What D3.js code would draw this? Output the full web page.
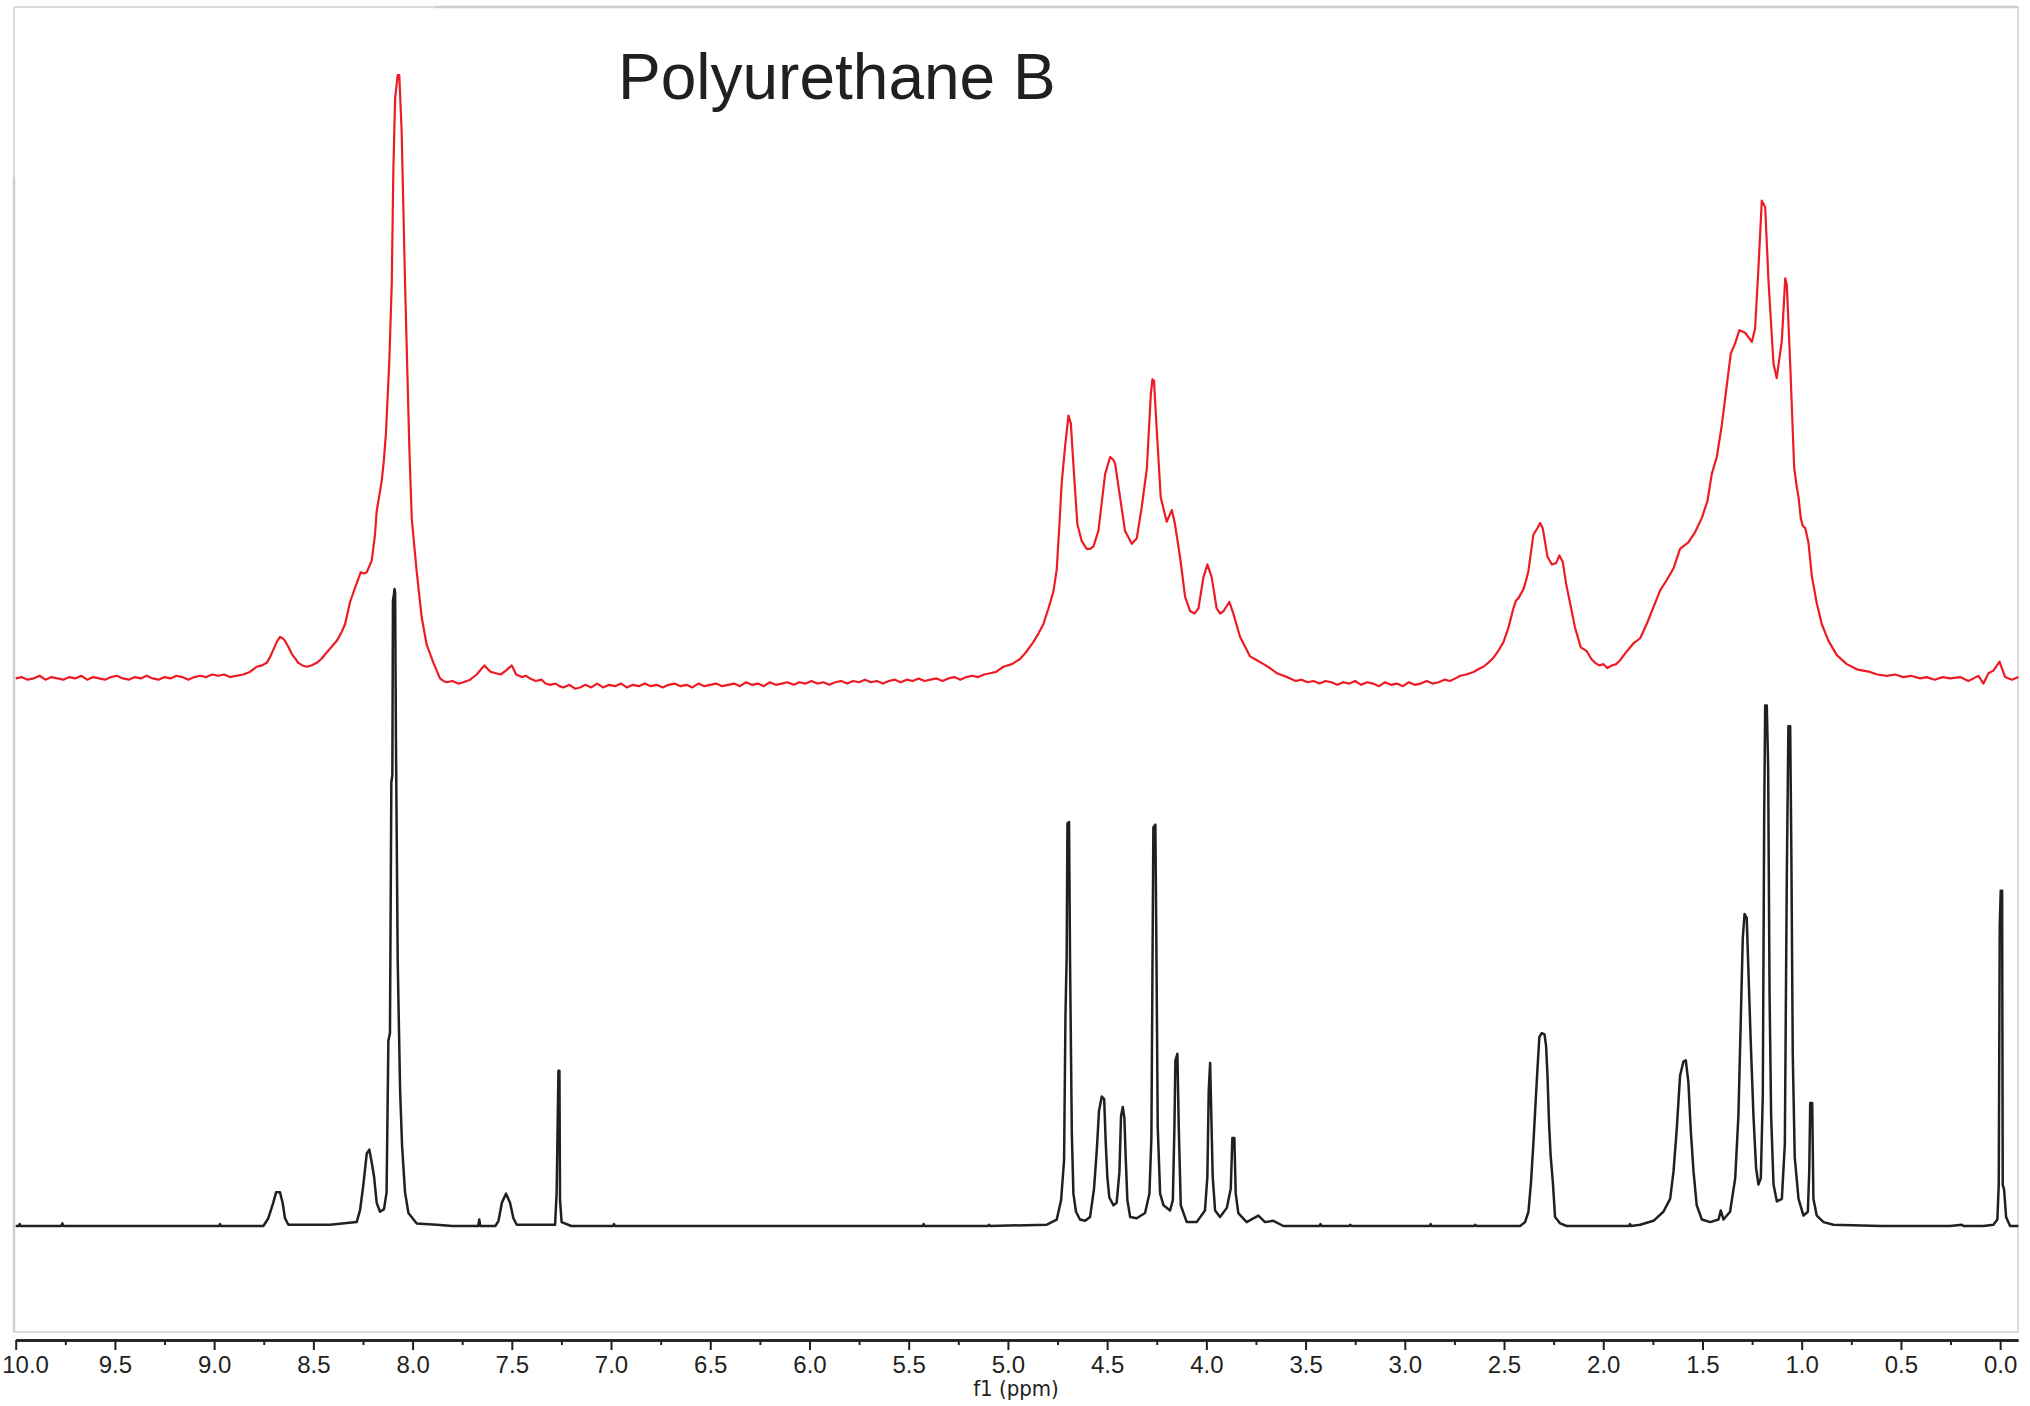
<!DOCTYPE html>
<html>
<head>
<meta charset="utf-8">
<script src="https://cdn.jsdelivr.net/npm/d3@7"></script>
<style>
  body { margin: 0; background: #fff; }
  svg { display: block; }
</style>
</head>
<body>
<div id="box"></div>
<script>
var titleText = "Polyurethane B";
var axisTitle = "f1 (ppm)";
var majorTicks = [10.0, 9.5, 9.0, 8.5, 8.0, 7.5, 7.0, 6.5, 6.0, 5.5, 5.0, 4.5, 4.0, 3.5, 3.0, 2.5, 2.0, 1.5, 1.0, 0.5, 0.0];
var minorTicks = [9.75, 9.25, 8.75, 8.25, 7.75, 7.25, 6.75, 6.25, 5.75, 5.25, 4.75, 4.25, 3.75, 3.25, 2.75, 2.25, 1.75, 1.25, 0.75, 0.25];

// red trace (upper), [ppm, intensity above its own baseline]
var redTrace = [
  [10.00,0],[9.97,1],[9.94,-1],[9.91,0],[9.88,2],[9.85,-1],[9.82,1],[9.79,0],[9.76,-1],[9.73,1],[9.70,0],[9.67,2],
  [9.64,-1],[9.61,1],[9.58,0],[9.55,-1],[9.52,1],[9.49,2],[9.46,0],[9.43,-1],[9.40,1],[9.37,0],[9.34,2],[9.31,0],
  [9.28,-1],[9.25,1],[9.22,0],[9.19,2],[9.16,1],[9.13,-1],[9.10,1],[9.07,2],[9.04,1],[9.01,3],[8.98,2],[8.95,3],
  [8.92,1],[8.89,2],[8.853,3],[8.82,5],[8.785,9],[8.76,10],[8.735,12],[8.72,16],[8.702,22],[8.685,28],[8.668,32],
  [8.655,31],[8.643,29],[8.625,24],[8.609,19],[8.59,15],[8.576,12],[8.555,10],[8.533,9],[8.51,10],[8.483,12],
  [8.46,15],[8.433,20],[8.41,24],[8.382,29],[8.36,35],[8.34,42],[8.315,59],[8.29,70],[8.261,82],[8.245,81],
  [8.231,82],[8.206,91],[8.19,110],[8.181,129],[8.156,152],[8.145,168],[8.134,190],[8.117,246],[8.105,305],
  [8.097,392],[8.088,448],[8.075,466],[8.067,466],[8.055,422],[8.038,305],[8.016,176],[8.004,123],[7.979,82],
  [7.954,47],[7.929,26],[7.895,12],[7.862,0],[7.845,-2],[7.828,-3],[7.80,-2],[7.77,-4],[7.744,-3],[7.71,-1],
  [7.677,3],[7.655,7],[7.638,10],[7.62,7],[7.606,5],[7.58,4],[7.556,3],[7.53,6],[7.50,10],[7.478,3],[7.45,1],
  [7.43,2],[7.408,0],[7.38,-2],[7.35,-1],[7.33,-4],[7.307,-5],[7.28,-4],[7.26,-6],[7.24,-7],[7.21,-5],[7.18,-8],
  [7.156,-7],[7.13,-5],[7.10,-7],[7.07,-4],[7.04,-7],[7.01,-5],[6.98,-6],[6.95,-4],[6.92,-7],[6.89,-5],[6.86,-6],
  [6.83,-4],[6.80,-6],[6.77,-5],[6.74,-7],[6.71,-5],[6.68,-4],[6.65,-6],[6.62,-5],[6.59,-7],[6.56,-4],[6.53,-6],
  [6.50,-5],[6.47,-4],[6.44,-6],[6.41,-5],[6.38,-4],[6.35,-6],[6.32,-3],[6.29,-5],[6.26,-4],[6.23,-6],[6.20,-3],
  [6.17,-5],[6.14,-4],[6.11,-3],[6.08,-5],[6.05,-3],[6.02,-4],[5.99,-2],[5.96,-4],[5.93,-3],[5.90,-5],[5.87,-3],
  [5.84,-2],[5.81,-4],[5.78,-2],[5.75,-3],[5.72,-1],[5.69,-3],[5.66,-2],[5.63,-4],[5.60,-2],[5.57,-1],[5.54,-3],
  [5.51,-1],[5.48,-2],[5.45,0],[5.42,-2],[5.39,-1],[5.36,0],[5.33,-2],[5.30,0],[5.27,1],[5.24,-1],[5.21,1],
  [5.18,2],[5.15,1],[5.12,3],
  [5.090,4],[5.06,5],[5.023,9],[4.98,11],[4.939,15],[4.91,20],[4.872,28],[4.845,35],[4.821,42],[4.796,54],
  [4.771,67],[4.754,84],[4.74,120],[4.729,151],[4.712,179],[4.695,203],[4.683,197],[4.667,158],[4.650,119],
  [4.628,106],[4.603,100],[4.585,100],[4.569,102],[4.544,114],[4.510,158],[4.485,171],[4.470,169],[4.460,166],
  [4.435,140],[4.410,114],[4.376,104],[4.351,108],[4.326,132],[4.300,162],[4.280,219],[4.272,231],[4.264,230],
  [4.250,192],[4.230,140],[4.200,121],[4.174,130],[4.158,119],[4.132,93],[4.107,63],[4.082,52],[4.060,50],
  [4.040,54],[4.015,78],[3.995,88],[3.973,78],[3.948,54],[3.930,50],[3.914,52],[3.884,59],[3.864,50],[3.830,32],
  [3.80,23],[3.780,17],[3.745,14],[3.712,11],[3.68,8],[3.645,4],[3.61,2],[3.578,0],
  [3.55,-2],[3.52,-1],[3.49,-3],[3.46,-2],[3.43,-4],[3.40,-2],[3.37,-3],[3.34,-5],[3.31,-3],[3.28,-4],[3.25,-2],
  [3.22,-5],[3.19,-3],[3.16,-4],[3.13,-6],[3.10,-3],[3.07,-5],[3.04,-4],[3.01,-6],[2.98,-3],[2.95,-5],[2.92,-4],
  [2.89,-2],[2.86,-4],[2.83,-3],[2.80,-1],
  [2.772,-2],[2.745,0],[2.721,2],[2.69,3],[2.654,5],[2.63,7],[2.604,9],[2.58,12],[2.553,16],[2.53,21],[2.503,28],
  [2.478,39],[2.453,54],[2.44,60],[2.427,62],[2.402,69],[2.39,75],[2.377,83],[2.352,111],[2.332,116],[2.318,120],
  [2.305,116],[2.281,94],[2.259,88],[2.238,89],[2.221,95],[2.204,90],[2.187,73],[2.167,58],[2.142,39],[2.113,24],
  [2.083,21],[2.06,15],[2.041,12],[2.02,10],[1.999,11],[1.98,8],[1.957,10],[1.935,11],[1.915,14],
  [1.881,21],[1.848,27],[1.814,31],[1.781,42],[1.747,55],[1.713,68],[1.680,76],[1.646,85],[1.613,100],[1.571,105],
  [1.537,113],[1.503,124],[1.475,137],[1.453,158],[1.428,171],[1.403,195],[1.377,227],[1.357,251],[1.335,259],
  [1.314,269],[1.285,267],[1.251,260],[1.235,270],[1.218,317],[1.201,369],[1.184,364],[1.167,306],[1.142,243],
  [1.126,232],[1.100,261],[1.083,309],[1.075,304],[1.058,243],[1.038,163],[1.025,148],[1.016,140],[1.005,124],
  [0.995,118],[0.982,116],[0.966,105],[0.949,79],[0.924,58],[0.899,42],[0.865,29],[0.823,18],[0.773,11],[0.722,7],
  [0.69,6],[0.655,5],[0.62,3],[0.571,2],[0.53,3],[0.487,1],[0.45,2],[0.403,0],[0.37,1],[0.33,-1],[0.29,1],
  [0.252,0],[0.202,1],[0.160,-2],[0.134,0],[0.109,2],[0.084,-4],[0.059,4],[0.034,6],[0.003,13],[-0.025,1],
  [-0.059,-1],[-0.092,1]
];

// black trace (lower)
var blackTrace = [
  [10.00,0],[9.985,0],[9.98,1.5],[9.975,0],[9.77,0],[9.765,2],[9.76,0],[8.975,0],[8.97,1.5],[8.965,0],
  [8.752,0],[8.727,6],[8.702,18],[8.688,26],[8.668,26],[8.655,18],[8.643,6],[8.626,1],[8.416,1],[8.282,3],
  [8.265,12],[8.248,32],[8.231,56],[8.218,59],[8.206,49],[8.194,38],[8.181,18],[8.164,11],[8.144,13],[8.131,26],
  [8.122,143],[8.114,149],[8.107,343],[8.102,348],[8.099,483],[8.094,488],[8.091,492],[8.088,489],[8.084,378],
  [8.075,205],[8.063,105],[8.053,62],[8.038,26],[8.021,10],[7.979,2],[7.878,1],[7.80,0],[7.669,0],[7.664,5],
  [7.659,0],[7.583,0],[7.567,4],[7.55,18],[7.529,25],[7.509,18],[7.492,6],[7.475,1],[7.282,1],[7.274,26],
  [7.265,120],[7.26,120],[7.257,20],[7.249,3],[7.20,0],[6.99,0],[6.985,1.5],[6.98,0],[5.43,0],[5.425,1.5],
  [5.42,0],[5.10,0],[5.095,1],[5.09,0],
  [4.804,1],[4.754,5],[4.732,20],[4.717,51],[4.710,163],[4.704,208],[4.700,311],[4.692,312],[4.687,206],[4.678,72],
  [4.670,25],[4.657,11],[4.637,5],[4.611,4],[4.586,7],[4.566,29],[4.552,59],[4.541,89],[4.527,100],[4.515,98],
  [4.507,64],[4.499,38],[4.489,22],[4.468,16],[4.452,18],[4.438,42],[4.430,85],[4.421,92],[4.413,83],[4.406,51],
  [4.398,20],[4.384,7],[4.351,6],[4.309,10],[4.287,25],[4.277,68],[4.272,189],[4.267,308],[4.257,310],[4.252,219],
  [4.245,76],[4.233,25],[4.216,16],[4.183,12],[4.169,20],[4.161,76],[4.156,128],[4.146,133],[4.139,76],[4.129,16],
  [4.099,3],[4.049,3],[4.007,12],[3.995,38],[3.988,105],[3.981,126],[3.975,85],[3.968,38],[3.956,12],[3.931,7],
  [3.897,14],[3.877,29],[3.869,68],[3.859,68],[3.852,25],[3.839,10],[3.797,3],[3.738,8],[3.704,3],[3.662,4],
  [3.612,0],[3.43,0],[3.425,1.5],[3.42,0],[3.28,0],[3.275,1],[3.27,0],[2.875,0],[2.87,1.5],[2.865,0],[2.65,0],
  [2.645,1],[2.64,0],
  [2.419,0],[2.394,3],[2.377,11],[2.364,34],[2.352,64],[2.340,98],[2.332,120],[2.322,146],[2.310,149],[2.296,148],
  [2.288,139],[2.281,116],[2.273,79],[2.265,54],[2.254,34],[2.243,7],[2.217,2],[2.184,0],
  [1.915,0],[1.87,0],[1.865,1.5],[1.86,0],[1.814,1],[1.747,4],[1.697,11],[1.663,21],[1.646,42],[1.630,74],
  [1.613,116],[1.596,127],[1.584,128],[1.571,111],[1.559,74],[1.545,42],[1.529,16],[1.503,5],[1.461,3],[1.419,5],
  [1.408,12],[1.394,5],[1.361,11],[1.335,37],[1.319,85],[1.307,159],[1.297,222],[1.288,241],[1.277,238],[1.267,190],
  [1.257,143],[1.243,85],[1.230,45],[1.218,32],[1.206,37],[1.196,101],[1.189,317],[1.184,402],[1.176,402],
  [1.169,354],[1.162,180],[1.154,85],[1.142,32],[1.125,19],[1.100,21],[1.085,63],[1.075,270],[1.067,386],
  [1.058,386],[1.052,286],[1.045,132],[1.035,53],[1.016,21],[0.991,8],[0.969,11],[0.962,42],[0.957,95],[0.947,95],
  [0.941,21],[0.924,8],[0.890,3],[0.840,1],[0.60,0],
  [0.252,0],[0.193,1],[0.185,0],[0.084,0],[0.034,1],[0.014,5],[0.007,32],[0.002,232],[-0.003,259],[-0.010,259],
  [-0.013,32],[-0.020,28],[-0.030,7],[-0.050,0],[-0.092,0]
];

var redOffset = 423;   // vertical stacking of the red trace, intensity units

var W = 2030, H = 1406;

var svg = d3.select("#box").append("svg")
    .attr("width", W)
    .attr("height", H)
    .style("background", "#fff");

//Scales
var x = d3.scaleLinear().domain([10, -0.09]).range([15.7, 2018]);
var y = d3.scaleLinear().domain([0, 500]).range([1226, 1226 - 500 * 1.2946]);

//Frame of the plot area
svg.append("rect")
   .attr("x", 14).attr("y", 7)
   .attr("width", 2004).attr("height", 1325)
   .style("fill", "none")
   .style("stroke", "#d2d2d2")
   .style("stroke-width", 1.5);
svg.append("line")
   .attr("x1", 435).attr("x2", 2018).attr("y1", 7).attr("y2", 7)
   .style("stroke", "#cfcfcf").style("stroke-width", 2.5);
svg.append("line")
   .attr("x1", 14).attr("x2", 14).attr("y1", 177).attr("y2", 1332)
   .style("stroke", "#cfcfcf").style("stroke-width", 2.5);

//Spectra
var line = d3.line()
    .x(function(d) { return x(d[0]); })
    .y(function(d) { return y(d[1]); });

svg.append("path")
   .datum(blackTrace)
   .attr("d", line)
   .style("fill", "none")
   .style("stroke", "#231f20")
   .style("stroke-width", 2.5)
   .style("stroke-linejoin", "round");

svg.append("path")
   .datum(redTrace.map(function(d) { return [d[0], d[1] + redOffset]; }))
   .attr("d", line)
   .style("fill", "none")
   .style("stroke", "#ed1c24")
   .style("stroke-width", 2.2)
   .style("stroke-linejoin", "round");

//Axis with major and minor ticks
var axisY = 1340;
var major = d3.axisBottom(x)
    .tickValues(majorTicks)
    .tickFormat(d3.format(".1f"))
    .tickSize(10)
    .tickSizeOuter(0)
    .tickPadding(6);
var minor = d3.axisBottom(x)
    .tickValues(minorTicks)
    .tickFormat("")
    .tickSize(5)
    .tickSizeOuter(0);

svg.append("g").attr("transform", "translate(0," + axisY + ")").call(minor);
var gx = svg.append("g").attr("transform", "translate(0," + axisY + ")").call(major);

svg.selectAll(".domain").style("stroke", "#231f20").style("stroke-width", 2.5);
svg.selectAll(".tick line").style("stroke", "#231f20").style("stroke-width", 2);
gx.selectAll("text")
  .style("font-family", "'Liberation Sans Narrow', 'Liberation Sans', sans-serif")
  .style("font-size", "24px")
  .style("fill", "#231f20");
//Keep the first label inside the page
gx.selectAll(".tick text")
  .filter(function(d) { return d === 10; })
  .attr("text-anchor", "start")
  .attr("x", -14);

svg.append("text")
   .attr("x", 1016).attr("y", 1396)
   .attr("text-anchor", "middle")
   .style("font-family", "'DejaVu Sans Condensed', 'DejaVu Sans', sans-serif")
   .style("font-size", "22px")
   .style("fill", "#231f20")
   .text(axisTitle);

//Title
svg.append("text")
   .attr("x", 618).attr("y", 99)
   .style("font-family", "'Liberation Sans', Arial, sans-serif")
   .style("font-size", "64px")
   .style("fill", "#231f20")
   .text(titleText);
</script>
</body>
</html>
